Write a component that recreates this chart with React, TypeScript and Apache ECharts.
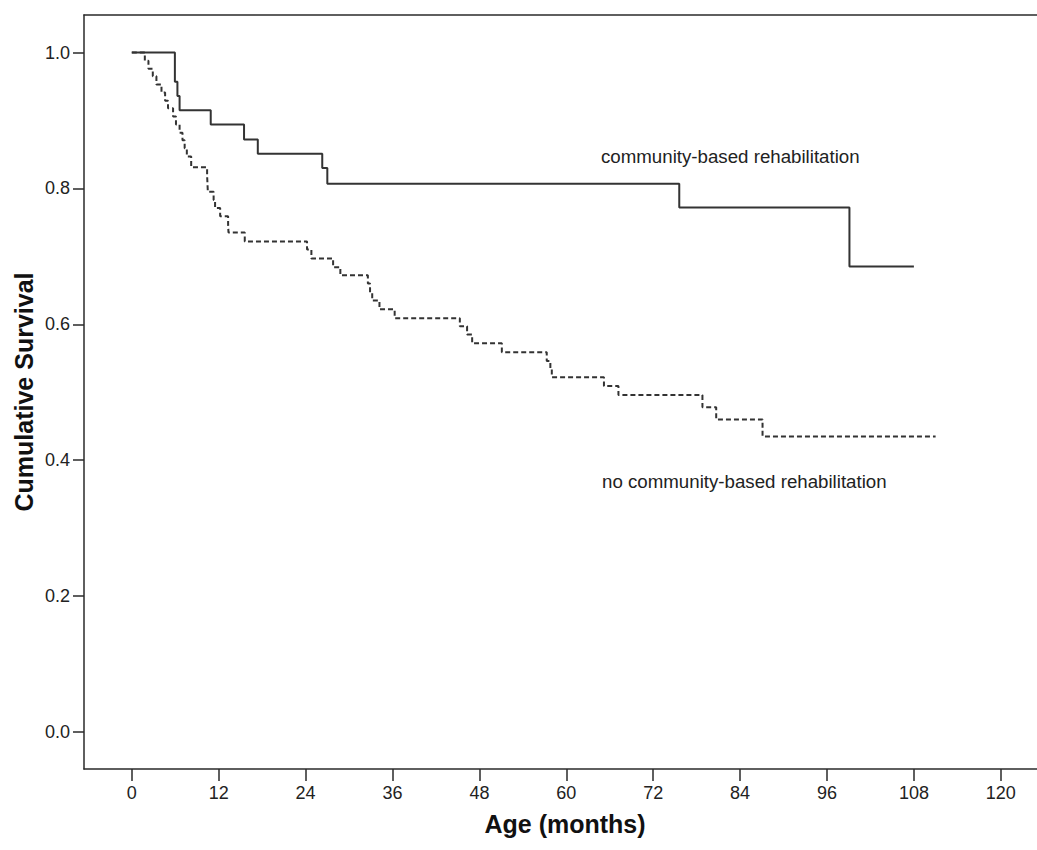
import React, { useEffect, useRef } from "react";
import * as echarts from "echarts";

// Kaplan-Meier step points: [months, cumulative survival]
const cbrTimes = [0, 5.95, 6.3, 6.6, 10.9, 15.5, 17.4, 26.3, 27.0, 75.6, 99.1, 108];
const cbrSurvival = [1.0, 0.957, 0.936, 0.915, 0.894, 0.872, 0.851, 0.830, 0.807, 0.772, 0.685, 0.685];

const noCbrTimes = [
  0, 1.8, 2.3, 2.9, 3.4, 4.1, 4.6, 5.0, 5.7, 6.1, 6.6, 7.0, 7.3, 7.6, 8.2,
  10.4, 10.45, 10.5, 11.3, 11.5, 12.2, 13.3, 13.35, 15.6, 24.2, 24.8, 27.8, 28.8,
  32.6, 32.9, 33.2, 34.2, 36.3, 45.3, 46.3, 47.0, 51.1, 57.3, 57.8, 58.0,
  65.2, 67.2, 78.8, 80.7, 87.1, 111,
];
const noCbrSurvival = [
  1.0, 0.988, 0.976, 0.965, 0.953, 0.941, 0.929, 0.918, 0.906, 0.894, 0.882, 0.871, 0.859, 0.847, 0.831,
  0.819, 0.807, 0.795, 0.783, 0.771, 0.759, 0.747, 0.735, 0.722, 0.710, 0.697, 0.684, 0.672,
  0.660, 0.647, 0.635, 0.622, 0.609, 0.597, 0.585, 0.572, 0.559, 0.546, 0.534, 0.522,
  0.509, 0.496, 0.478, 0.460, 0.435, 0.435,
];

const xTicks = [0, 12, 24, 36, 48, 60, 72, 84, 96, 108, 120];
const yTicks = [0, 0.2, 0.4, 0.6, 0.8, 1.0];

const labelCbr = "community-based rehabilitation";
const labelNoCbr = "no community-based rehabilitation";
const xTitle = "Age (months)";
const yTitle = "Cumulative Survival";

const FONT = '"Liberation Sans", Arial, Helvetica, sans-serif';

export default function App() {
  const ref = useRef<HTMLDivElement>(null);

  useEffect(() => {
    if (!ref.current) return;
    const chart = echarts.init(ref.current, null, { renderer: "svg" });
    const lineColor = "#333";
    const axisColor = "#2a2a2a";
    const option: any = {
      animation: false,
      backgroundColor: "#fff",
      grid: { left: 84, top: 15, right: 0, bottom: 81, containLabel: false },
      xAxis: [
        {
          type: "value",
          min: -6.6,
          max: 125,
          axisLine: { show: true, onZero: false, lineStyle: { color: axisColor, width: 1.5 } },
          axisTick: {
            show: true,
            customValues: xTicks,
            length: 12,
            lineStyle: { color: axisColor, width: 1.5 },
          },
          axisLabel: {
            customValues: xTicks,
            fontSize: 18,
            color: "#222",
            fontFamily: FONT,
            margin: 15,
          },
          splitLine: { show: false },
        },
        {
          type: "value",
          position: "top",
          min: -6.6,
          max: 125,
          axisLine: { show: true, onZero: false, lineStyle: { color: axisColor, width: 1.5 } },
          axisTick: { show: false },
          axisLabel: { show: false },
          splitLine: { show: false },
        },
      ],
      yAxis: {
        type: "value",
        min: -0.0545,
        max: 1.0552,
        axisLine: { show: true, onZero: false, lineStyle: { color: axisColor, width: 1.5 } },
        axisTick: {
          show: true,
          customValues: yTicks,
          length: 11,
          lineStyle: { color: axisColor, width: 1.5 },
        },
        axisLabel: {
          customValues: yTicks,
          formatter: (v: number) => v.toFixed(1),
          fontSize: 18,
          color: "#222",
          fontFamily: FONT,
          margin: 14,
        },
        splitLine: { show: false },
      },
      series: [
        {
          name: labelCbr,
          type: "line",
          step: "end",
          symbol: "none",
          data: cbrTimes.map((t, i) => [t, cbrSurvival[i]]),
          lineStyle: { color: lineColor, width: 2 },
        },
        {
          name: labelNoCbr,
          type: "line",
          step: "end",
          symbol: "none",
          data: noCbrTimes.map((t, i) => [t, noCbrSurvival[i]]),
          lineStyle: { color: lineColor, width: 2, type: [5, 3] },
        },
      ],
      graphic: [
        {
          type: "text",
          x: 601,
          y: 156,
          style: {
            text: labelCbr,
            font: `18.7px ${FONT}`,
            fill: "#222",
            textAlign: "left",
            textVerticalAlign: "middle",
          },
        },
        {
          type: "text",
          x: 602,
          y: 481,
          style: {
            text: labelNoCbr,
            font: `18.7px ${FONT}`,
            fill: "#222",
            textAlign: "left",
            textVerticalAlign: "middle",
          },
        },
        {
          type: "text",
          x: 565,
          y: 824,
          style: {
            text: xTitle,
            font: `bold 25px ${FONT}`,
            fill: "#111",
            textAlign: "center",
            textVerticalAlign: "middle",
          },
        },
        {
          type: "text",
          x: 24,
          y: 392,
          rotation: Math.PI / 2,
          style: {
            text: yTitle,
            font: `bold 25px ${FONT}`,
            fill: "#111",
            textAlign: "center",
            textVerticalAlign: "middle",
          },
        },
      ],
    };
    chart.setOption(option);
    return () => chart.dispose();
  }, []);

  return (
    <div
      ref={ref}
      style={{ position: "fixed", left: 0, top: 0, width: 1037, height: 850, background: "#fff" }}
    />
  );
}
